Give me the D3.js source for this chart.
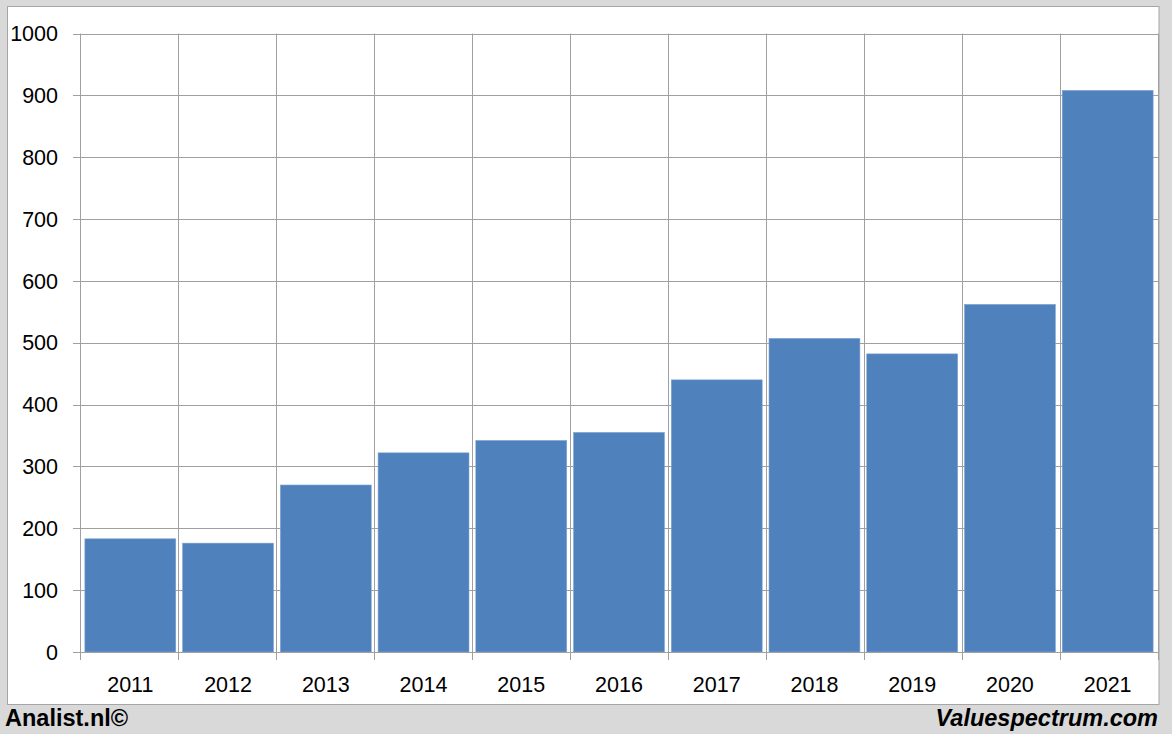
<!DOCTYPE html>
<html><head><meta charset="utf-8">
<script src="https://cdn.jsdelivr.net/npm/d3@7"></script>
<style>body{margin:0;background:#d9d9d9;}svg{display:block;}</style>
</head><body><svg id="c" width="1172" height="734"></svg>
<script>
const years = ["2011","2012","2013","2014","2015","2016","2017","2018","2019","2020","2021"];
const values = [183, 176, 270, 322, 342, 355, 440, 507, 482, 562, 908];
const yTicks = [0,100,200,300,400,500,600,700,800,900,1000];

const svg = d3.select("#c");
const font = "Liberation Sans, Arial, sans-serif";
svg.append("rect").attr("x",0).attr("y",0).attr("width",1172).attr("height",734).attr("fill","#d9d9d9");
svg.append("rect").attr("x",7.5).attr("y",6.5).attr("width",1151.5).attr("height",698)
  .attr("fill","#fff").attr("stroke","#a6a6a6").attr("stroke-width",1);

const m = {l:80, r:1158, t:33.5, b:652};
const x = d3.scaleBand().domain(years).range([m.l, m.r]).paddingInner(0.07).paddingOuter(0.05);
const y = d3.scaleLinear().domain([0,1000]).range([m.b, m.t]);
const step = (m.r - m.l) / years.length;

const g = svg.append("g");
g.selectAll("line.h").data(yTicks).join("line")
  .attr("x1", m.l - 7).attr("x2", m.r)
  .attr("y1", d => Math.round(y(d)) + 0.5).attr("y2", d => Math.round(y(d)) + 0.5)
  .attr("stroke","#a0a0a0").attr("stroke-width",1);
const bounds = d3.range(years.length + 1).map(i => m.l + i*step);
g.selectAll("line.v").data(bounds).join("line")
  .attr("x1", d => Math.round(d) + 0.5).attr("x2", d => Math.round(d) + 0.5)
  .attr("y1", m.t).attr("y2", m.b + 8)
  .attr("stroke","#a0a0a0").attr("stroke-width",1);

g.selectAll("rect.bar").data(values).join("rect")
  .attr("x", (d,i) => x(years[i])).attr("width", x.bandwidth())
  .attr("y", d => y(d)).attr("height", d => y(0) - y(d))
  .attr("fill","#4f81bd").attr("stroke","#7fa3d0").attr("stroke-width",0.6);

g.append("line").attr("x1", m.l - 7).attr("x2", m.r).attr("y1", Math.round(y(0))+0.5).attr("y2", Math.round(y(0))+0.5)
  .attr("stroke","#a0a0a0");

g.selectAll("text.y").data(yTicks).join("text")
  .attr("x", 58).attr("y", d => y(d)).attr("dy","0.36em")
  .attr("text-anchor","end").attr("font-family",font).attr("font-size",21.5).attr("fill","#000")
  .text(d => d);
g.selectAll("text.x").data(years).join("text")
  .attr("x", d => x(d) + x.bandwidth()/2).attr("y", 692)
  .attr("text-anchor","middle").attr("font-family",font).attr("font-size",21.5).attr("fill","#000")
  .text(d => d);

svg.append("text").attr("x",5).attr("y",726).attr("font-family",font).attr("font-size",23.5)
  .attr("font-weight","bold").attr("fill","#000").text("Analist.nl©");
svg.append("text").attr("x",1158).attr("y",726).attr("text-anchor","end").attr("font-family",font).attr("font-size",23.5)
  .attr("font-weight","bold").attr("font-style","italic").attr("fill","#000").text("Valuespectrum.com");
</script></body></html>
